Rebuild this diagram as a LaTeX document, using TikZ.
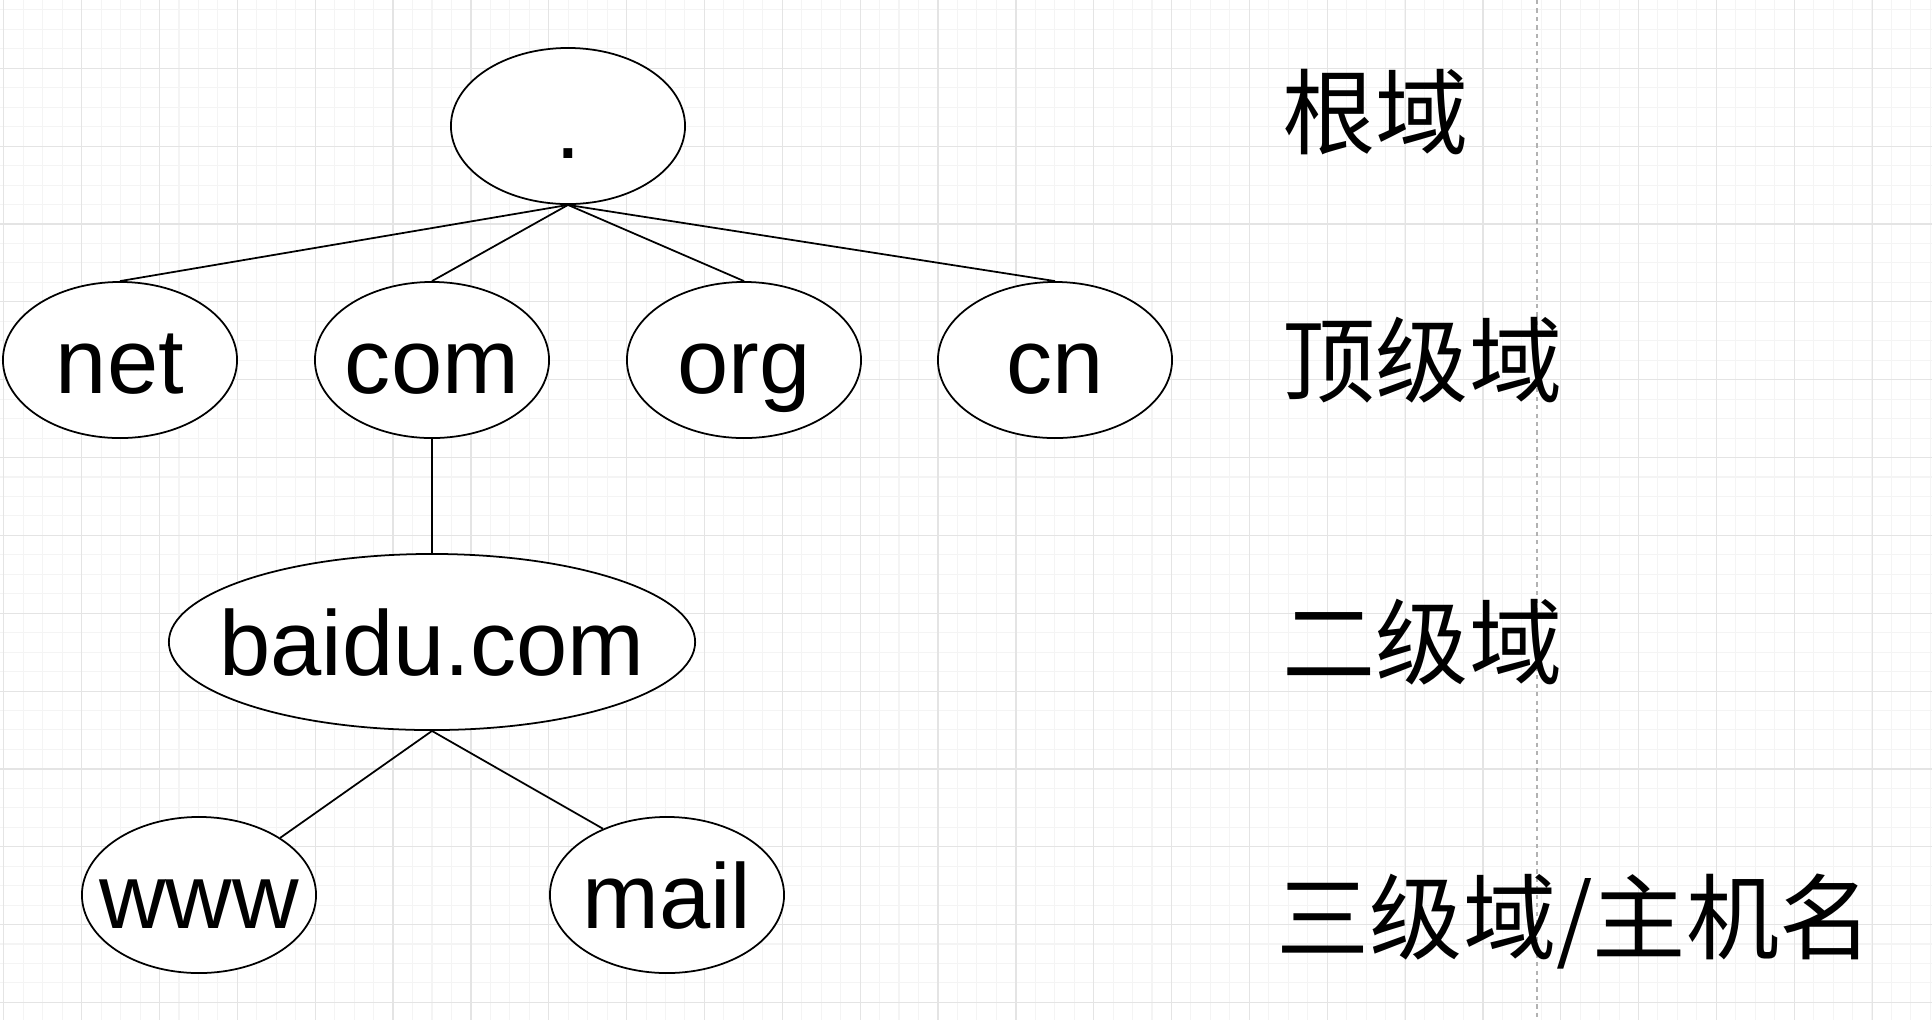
\documentclass[tikz,border=0pt]{standalone}
\usepackage{fontspec}
\setmainfont{Liberation Sans}
\newfontfamily\cjk{Noto Sans CJK SC}
\usetikzlibrary{shapes.geometric}
\definecolor{gridmajor}{HTML}{E4E4E4}
\definecolor{gridminor}{HTML}{F4F4F4}

\begin{document}
\begin{tikzpicture}[x=0.01cm,y=-0.01cm,
		dom/.style={ellipse,draw,line width=0.5pt,fill=white,minimum width=2.34cm,minimum height=1.56cm,
			inner ysep=0pt,inner xsep=-0.3cm,
			font=\fontsize{26.2}{30}\selectfont,text height=18.76pt,text depth=0pt},
		level/.style={anchor=west,inner sep=0pt,font=\cjk\fontsize{26.5}{30}\selectfont,text height=20.1pt,text depth=0pt},
		link/.style={line width=0.5pt}]
		\useasboundingbox (0,0) rectangle (1932,1020);
		\fill[white] (0,0) rectangle (1932,1020);
		% grid
		\foreach \i in {0,...,99}
			\draw[gridminor,line width=0.3pt] (3.85+19.46*\i,0) -- ++(0,1020);
		\foreach \j in {0,...,51}
			\draw[gridminor,line width=0.3pt] (0,9.92+19.46*\j) -- ++(1932,0);
		\foreach \k in {0,...,24}
			\draw[gridmajor,line width=0.35pt] (3.85+77.85*\k,0) -- ++(0,1020);
		\foreach \k in {1,...,13}
			\draw[gridmajor,line width=0.35pt] (0,-9.55+77.85*\k) -- ++(1932,0);
		\draw[gray!60,dash pattern=on 1.2pt off 1.2pt,line width=0.3pt] (1537,0) -- (1537,1020);

		% tree
		\node[dom] (root) at (568,126) {.};
		\node[dom] (net) at (120,360) {net};
		\node[dom] (com) at (432,360) {com};
		\node[dom] (org) at (744,360) {org};
		\node[dom] (cn) at (1055,360) {cn};
		\node[dom,minimum width=5.26cm,minimum height=1.76cm] (baidu) at (432,642) {baidu.com};
		\node[dom] (www) at (199,895) {www};
		\node[dom] (mail) at (667,895) {mail};

		\path[link] (root.south)
			edge (net.north)
			edge (com.north)
			edge (org.north)
			edge (cn.north)
			;
		\draw[link] (com.south) -- (baidu.north);
		\path[link] (baidu.south)
			edge (www)
			edge (mail.134)
			;

		% levels
		\node[level] (lroot) at (1282,112) {根域};
		\node[level] (ltop) at (1282,360) {顶级域};
		\node[level] (lsecond) at (1282,642) {二级域};
		\node[level] (lthird) at (1276,917) {三级域/主机名};
	\end{tikzpicture}
\end{document}
